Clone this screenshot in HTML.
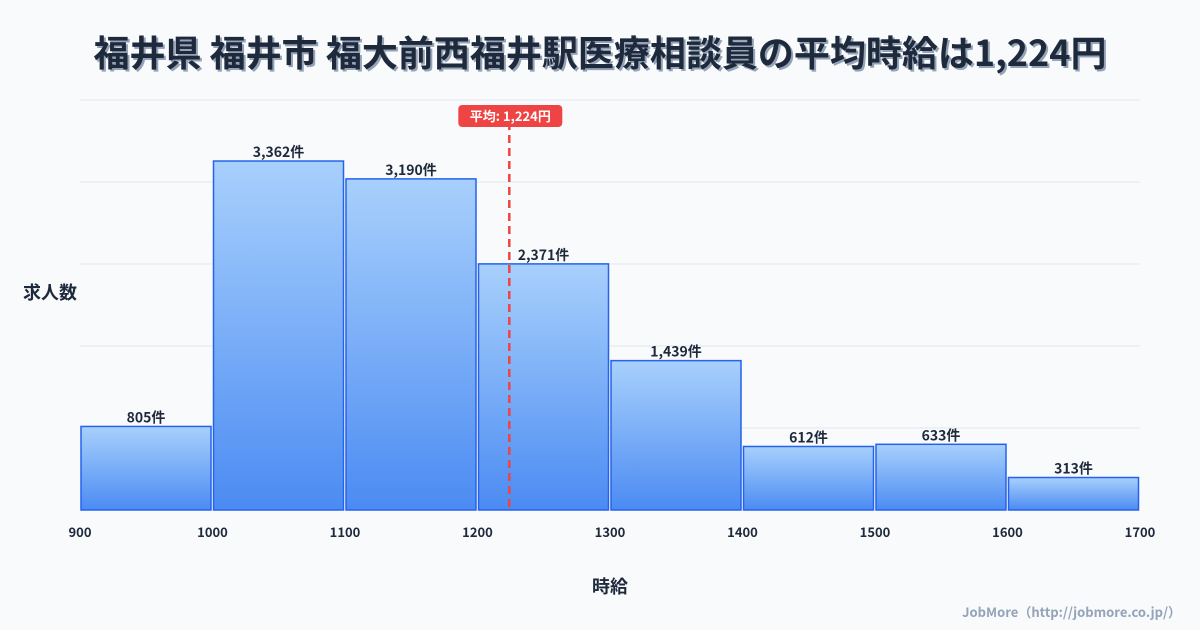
<!DOCTYPE html>
<html><head><meta charset="utf-8"><style>
body{margin:0;width:1200px;height:630px;background:#f8fafc;overflow:hidden;font-family:"Liberation Sans","Noto Sans CJK JP",sans-serif}
svg{position:absolute;left:0;top:0}
</style></head><body>
<svg id="c" width="1200" height="630">
<defs><linearGradient id="g" x1="0" y1="0" x2="0" y2="1"><stop offset="0" stop-color="#a8d0fc"/><stop offset="1" stop-color="#4b8bf2"/></linearGradient></defs>
<text x="602" y="68" text-anchor="middle" font-size="36" font-weight="bold" fill="#94a3b8" font-family="Noto Sans CJK JP, sans-serif">福井県 福井市 福大前西福井駅医療相談員の平均時給は1,224円</text>
<text x="600" y="66" text-anchor="middle" font-size="36" font-weight="bold" fill="#1e293b" font-family="Noto Sans CJK JP, sans-serif">福井県 福井市 福大前西福井駅医療相談員の平均時給は1,224円</text>
<text x="50" y="299" text-anchor="middle" font-size="18" font-weight="bold" fill="#1e293b" font-family="Noto Sans CJK JP, sans-serif">求人数</text>
<text x="610" y="593" text-anchor="middle" font-size="18" font-weight="bold" fill="#1e293b" font-family="Noto Sans CJK JP, sans-serif">時給</text>
<text x="1181" y="617" text-anchor="end" font-size="13" font-weight="bold" fill="#94a3b8" font-family="Noto Sans CJK JP, sans-serif">JobMore（http://jobmore.co.jp/）</text>
<g id="grid"></g><g id="bars"></g><g id="ticks"></g><g id="avg"></g>
</svg>
<script>
const binStarts=[900,1000,1100,1200,1300,1400,1500,1600];
const counts=[805,3362,3190,2371,1439,612,633,313];
const xTicks=[900,1000,1100,1200,1300,1400,1500,1600,1700];
const avgValue=1224;
const avgLabel="平均: 1,224円";
const X0=80,X1=1140,XMIN=900,XMAX=1700,Y0=510,Y1=100,YMAX=3950;
const x=v=>X0+(v-XMIN)/(XMAX-XMIN)*(X1-X0);
const y=v=>Y0-v/YMAX*(Y0-Y1);
const NS="http://www.w3.org/2000/svg";
function mk(t,a,p){const e=document.createElementNS(NS,t);for(const k in a)e.setAttribute(k,a[k]);p.appendChild(e);return e;}
const grid=document.getElementById('grid');
for(let i=1;i<=5;i++){const gy=y(YMAX*i/5);const l=mk('line',{x1:X0,x2:X1,y1:gy,y2:gy,stroke:'#e2e8f0','stroke-width':1},grid);

}
const bars=document.getElementById('bars');
binStarts.forEach((b,i)=>{const x0=x(b)+1,x1=x(b+100)-1.5,top=y(counts[i]);
const r=mk('rect',{x:x0,y:top,width:x1-x0,height:Y0-top,fill:'url(#g)',stroke:'#2563eb','stroke-width':1.5},bars);


const t=mk('text',{x:(x0+x1)/2,y:top-4,'text-anchor':'middle','font-size':14,'font-weight':'bold',fill:'#1e293b','font-family':'Noto Sans CJK JP, sans-serif'},bars);
t.textContent=counts[i].toLocaleString('en-US')+'件';

});
const tk=document.getElementById('ticks');
xTicks.forEach(v=>{const t=mk('text',{x:x(v),y:537,'text-anchor':'middle','font-size':13,'font-weight':'bold',fill:'#1e293b','font-family':'Noto Sans CJK JP, sans-serif'},tk);
t.textContent=v;

});
const av=document.getElementById('avg');const ax=x(avgValue);
const dl=mk('line',{x1:ax,x2:ax,y1:122,y2:Y0,stroke:'#ef4444','stroke-width':2.5,'stroke-dasharray':'8,5'},av);


const br=mk('rect',{x:ax-51,y:105,width:104,height:22,rx:4,fill:'#ef4444'},av);


const bt=mk('text',{x:ax+1,y:121,'text-anchor':'middle','font-size':13,'font-weight':'bold',fill:'#fff','font-family':'Noto Sans CJK JP, sans-serif'},av);
bt.textContent=avgLabel;


</script>
</body></html>
